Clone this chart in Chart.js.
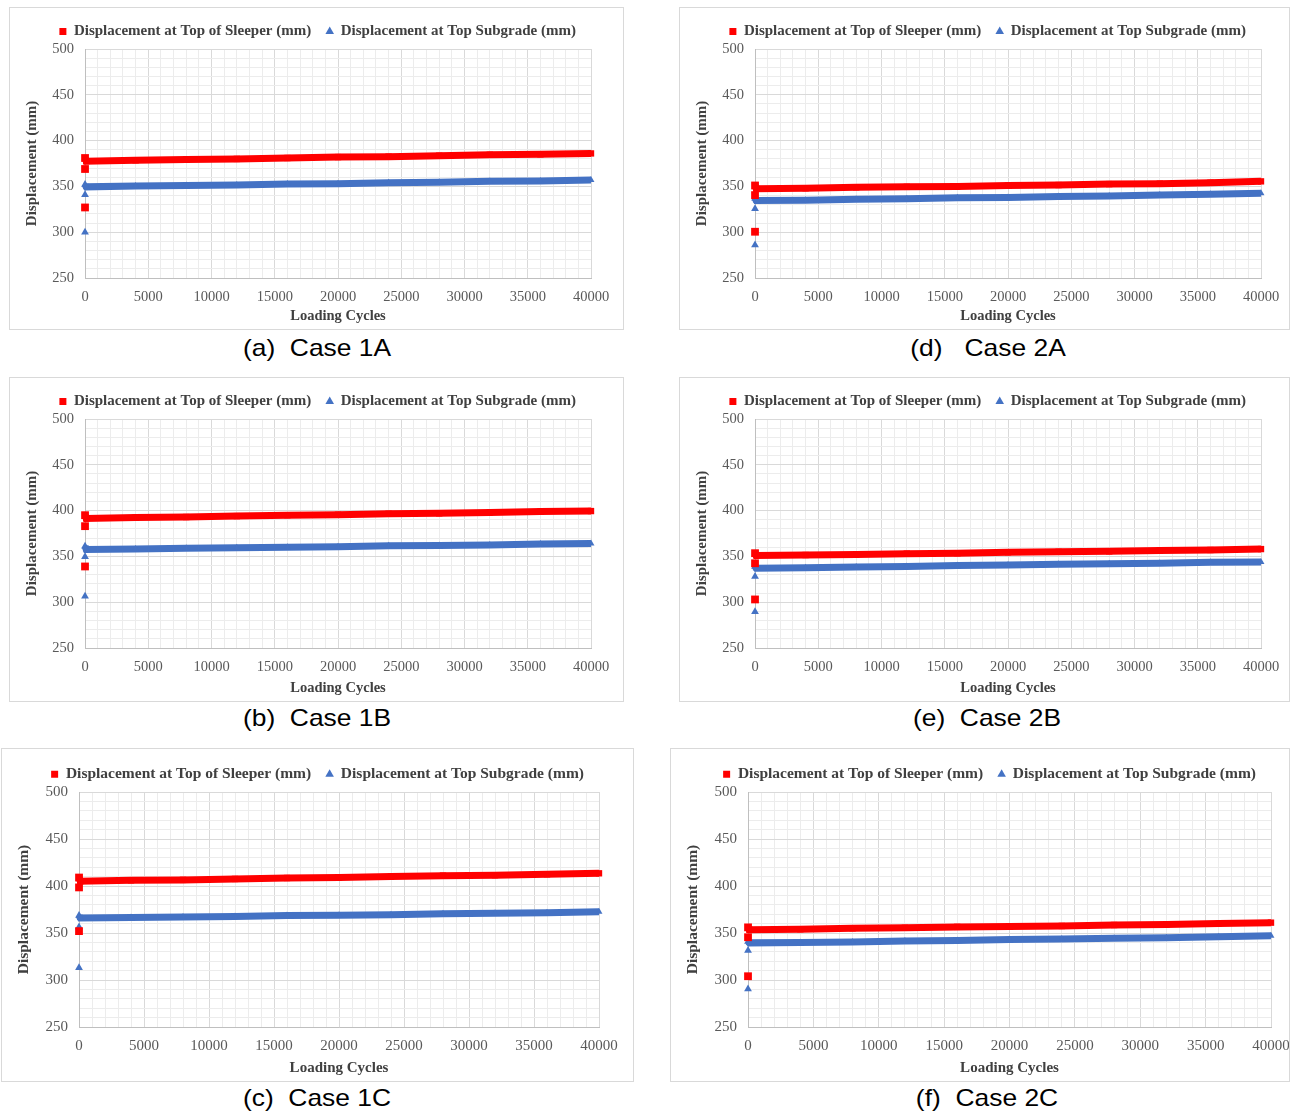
<!DOCTYPE html>
<html>
<head>
<meta charset="utf-8">
<script src="https://cdn.jsdelivr.net/npm/chart.js@4.4.1/dist/chart.umd.min.js"></script>
<style>
  body { margin: 0; background: #fff; width: 1292px; height: 1113px; position: relative; overflow: hidden; }
  .panel { position: absolute; border: 1px solid #d9d9d9; box-sizing: border-box; background: #fff; }
  .panel canvas { display: block; }
  .caption { position: absolute; font-family: "Liberation Sans", Arial, sans-serif; font-size: 24px; color: #000; white-space: pre; transform: translate(-50%, -50%) scaleX(1.1); }
</style>
</head>
<body>
<script>
// cycle counts shared by all cases (first three are the early load cycles)
const cycles = [1, 2, 3, 100, 4000, 8000, 12000, 16000, 20000, 24000, 28000, 32000, 36000, 40000];

// displacement (mm)
const sleeper1A  = [327, 369, 381, 377.5, 378.5, 379.5, 380, 381, 382, 382.5, 383.5, 384.5, 385, 386];
const subgrade1A = [300, 341, 352, 349.5, 350.5, 351, 351.5, 352.5, 353, 354, 354.5, 355.5, 356, 357];
const sleeper1B  = [339, 383, 395, 391.5, 392.5, 393, 394, 395, 395.5, 396.5, 397, 398, 399, 399.5];
const subgrade1B = [306.5, 349.5, 361, 357.5, 358, 359, 359.5, 360, 360.5, 361.5, 362, 362.5, 363.5, 364];
const sleeper1C  = [352, 398.5, 409, 405, 406, 406.5, 407.5, 408.5, 409, 410, 411, 411.5, 412.5, 413.5];
const subgrade1C = [313, 356.5, 368.5, 366, 366.5, 367, 367.5, 368.5, 369, 369.5, 370.5, 371, 371.5, 372.5];
const sleeper2A  = [300.5, 340.5, 351, 347.5, 348, 349, 349.5, 350, 351, 351.5, 352.5, 353, 354, 355.5];
const subgrade2A = [286, 325.5, 337, 334.5, 335, 336, 336.5, 337.5, 338, 339, 339.5, 340.5, 341.5, 342.5];
const sleeper2B  = [303, 342.5, 353.5, 351, 351.5, 352, 353, 353.5, 354.5, 355, 355.5, 356.5, 357, 358];
const subgrade2B = [289.5, 328, 339, 337, 337.5, 338.5, 339, 340, 340.5, 341.5, 342, 342.5, 343.5, 344];
const sleeper2C  = [304, 345.5, 356, 353.5, 354, 355, 355.5, 356.5, 357, 357.5, 358.5, 359, 360, 361];
const subgrade2C = [290.5, 331.5, 341, 339.5, 340, 340.5, 341.5, 342, 343, 343.5, 344.5, 345, 346, 347];

const seriesNames = ['Displacement at Top of Sleeper (mm)', 'Displacement at Top Subgrade (mm)'];
const xTickLabels = [0, 5000, 10000, 15000, 20000, 25000, 30000, 35000, 40000];
const yTickLabels = [250, 300, 350, 400, 450, 500];
const captions = ['(a)  Case 1A', '(b)  Case 1B', '(c)  Case 1C', '(d)   Case 2A', '(e)  Case 2B', '(f)  Case 2C'];

// panel boxes: x, y, w, h, chart area left/top/right, x-axis height, legend font size
const panels = [
  { sleeper: sleeper1A, subgrade: subgrade1A, cap: captions[0], x: 9,   y: 7,   w: 615, h: 323, L: 75, T: 41, R: 581, xH: 51, fs: 15,   cx: 317, cy: 348 },
  { sleeper: sleeper1B, subgrade: subgrade1B, cap: captions[1], x: 9,   y: 377, w: 615, h: 325, L: 75, T: 41, R: 581, xH: 53, fs: 15,   cx: 317, cy: 718 },
  { sleeper: sleeper1C, subgrade: subgrade1C, cap: captions[2], x: 1,   y: 748, w: 633, h: 334, L: 77, T: 43, R: 597, xH: 54, fs: 15.5, cx: 317, cy: 1098 },
  { sleeper: sleeper2A, subgrade: subgrade2A, cap: captions[3], x: 679, y: 7,   w: 611, h: 323, L: 75, T: 41, R: 581, xH: 51, fs: 15,   cx: 988, cy: 348 },
  { sleeper: sleeper2B, subgrade: subgrade2B, cap: captions[4], x: 679, y: 377, w: 611, h: 325, L: 75, T: 41, R: 581, xH: 53, fs: 15,   cx: 987, cy: 718 },
  { sleeper: sleeper2C, subgrade: subgrade2C, cap: captions[5], x: 670, y: 748, w: 620, h: 334, L: 77, T: 43, R: 600, xH: 54, fs: 15.5, cx: 987, cy: 1098 }
];

const serif = '"Liberation Serif", "Times New Roman", serif';
const legendGap = 15;

function points(values) {
  return values.map((v, i) => ({ x: cycles[i], y: v }));
}

// early cycles are separate markers, not joined by the line
const hideEarly = ctx => ctx.p1.parsed.x <= 3 ? 'rgba(0,0,0,0)' : undefined;
const markerSize = (early, band) => ctx => ctx.parsed && ctx.parsed.x <= 3 ? early : band;

panels.forEach(p => {
  const box = document.createElement('div');
  box.className = 'panel';
  box.style.left = p.x + 'px';
  box.style.top = p.y + 'px';
  box.style.width = p.w + 'px';
  box.style.height = p.h + 'px';
  const canvas = document.createElement('canvas');
  const cw = p.w - 2, ch = p.h - 2;
  canvas.width = cw;
  canvas.height = ch;
  box.appendChild(canvas);
  document.body.appendChild(box);

  const cap = document.createElement('div');
  cap.className = 'caption';
  cap.textContent = p.cap;
  cap.style.left = p.cx + 'px';
  cap.style.top = p.cy + 'px';
  document.body.appendChild(cap);

  const legendH = p.fs + legendGap + 10;
  const scaleFs = p.fs - 0.5;

  new Chart(canvas.getContext('2d'), {
    type: 'scatter',
    data: {
      datasets: [{
        label: seriesNames[0],
        data: points(p.sleeper),
        showLine: true,
        clip: false,
        borderColor: '#ff0000',
        backgroundColor: '#ff0000',
        borderWidth: 7,
        pointStyle: 'rect',
        pointRadius: markerSize(5.5, 4.5),
        pointBorderWidth: 0,
        segment: { borderColor: hideEarly }
      }, {
        label: seriesNames[1],
        data: points(p.subgrade),
        showLine: true,
        clip: false,
        borderColor: '#4472c4',
        backgroundColor: '#4472c4',
        borderWidth: 7,
        pointStyle: 'triangle',
        pointRadius: markerSize(4.5, 4),
        pointBorderWidth: 0,
        segment: { borderColor: hideEarly }
      }]
    },
    options: {
      responsive: false,
      animation: false,
      layout: { padding: { left: 0, top: Math.max(0, p.T - legendH), right: cw - p.R, bottom: 0 } },
      plugins: {
        tooltip: { enabled: false },
        legend: {
          position: 'top',
          align: 'end',
          labels: {
            usePointStyle: true,
            boxWidth: 7,
            boxHeight: 7,
            padding: legendGap,
            color: '#404040',
            font: { family: serif, size: p.fs, weight: 'bold' }
          }
        }
      },
      scales: {
        x: {
          type: 'linear',
          min: 0,
          max: 40000,
          afterFit: s => { s.height = p.xH; s.paddingLeft = 0; s.paddingRight = 0; },
          ticks: {
            stepSize: 1000,
            autoSkip: false,
            maxRotation: 0,
            padding: 10,
            color: '#595959',
            font: { family: serif, size: scaleFs },
            callback: v => xTickLabels.includes(v) ? String(v) : ''
          },
          grid: {
            drawTicks: false,
            color: c => c.tick && c.tick.value % 5000 === 0 ? '#d9d9d9' : '#ececec'
          },
          border: { color: '#bfbfbf' },
          title: {
            display: true,
            text: 'Loading Cycles',
            color: '#404040',
            font: { family: serif, size: scaleFs, weight: 'bold' },
            padding: { top: 0, bottom: 4 }
          }
        },
        y: {
          min: 250,
          max: 500,
          afterFit: s => { s.width = p.L; s.paddingTop = 0; s.paddingBottom = 0; },
          ticks: {
            stepSize: 10,
            autoSkip: false,
            padding: 11,
            color: '#595959',
            font: { family: serif, size: scaleFs },
            callback: v => yTickLabels.includes(v) ? String(v) : ''
          },
          grid: {
            drawTicks: false,
            color: c => c.tick && c.tick.value % 50 === 0 ? '#d9d9d9' : '#ececec'
          },
          border: { color: '#bfbfbf' },
          title: {
            display: true,
            text: 'Displacement (mm)',
            color: '#404040',
            font: { family: serif, size: p.fs, weight: 'bold' },
            padding: { top: 13, bottom: 0 }
          }
        }
      }
    }
  });
});
</script>
</body>
</html>
